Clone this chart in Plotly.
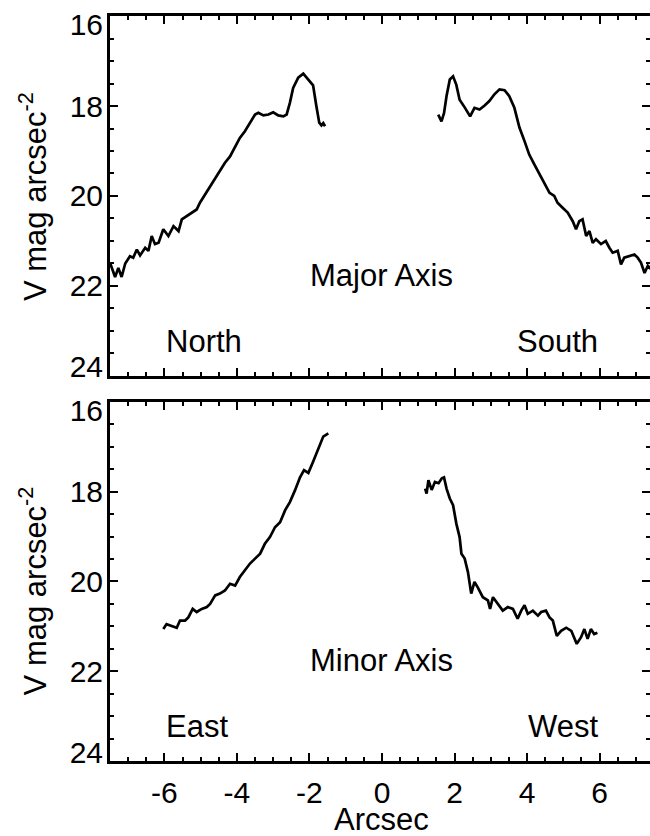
import plotly.graph_objects as go

# ---------------- data ----------------
major_north_x = [-7.50, -7.36, -7.27, -7.18, -7.08, -6.95, -6.86, -6.76, -6.67, -6.53, -6.44,
                 -6.35, -6.26, -6.16, -6.03, -5.89, -5.75, -5.61, -5.52, -5.38, -5.24, -5.11,
                 -5.02, -4.88, -4.74, -4.60, -4.47, -4.33, -4.19, -4.05, -3.92, -3.78, -3.64,
                 -3.50, -3.41, -3.27, -3.13, -3.00, -2.86, -2.72, -2.63, -2.54, -2.45, -2.31,
                 -2.17, -2.03, -1.90, -1.81, -1.73, -1.67, -1.62, -1.57]
major_north_y = [21.48, 21.80, 21.60, 21.80, 21.50, 21.34, 21.37, 21.19, 21.32, 21.15, 21.22,
                 20.89, 21.07, 21.04, 20.74, 20.89, 20.67, 20.78, 20.52, 20.45, 20.37, 20.30,
                 20.15, 19.97, 19.78, 19.63, 19.45, 19.26, 19.12, 18.89, 18.71, 18.56, 18.37,
                 18.19, 18.15, 18.21, 18.19, 18.14, 18.21, 18.23, 18.19, 17.93, 17.60, 17.37,
                 17.28, 17.41, 17.54, 18.00, 18.37, 18.43, 18.38, 18.45]

major_south_x = [1.55, 1.64, 1.71, 1.78, 1.87, 1.96, 2.05, 2.14, 2.28, 2.43, 2.55, 2.69, 2.83,
                 2.96, 3.10, 3.24, 3.38, 3.51, 3.65, 3.79, 3.93, 4.06, 4.20, 4.34, 4.48, 4.62,
                 4.75, 4.84, 4.98, 5.12, 5.26, 5.35, 5.44, 5.53, 5.63, 5.72, 5.81, 5.90, 6.04,
                 6.17, 6.27, 6.36, 6.50, 6.59, 6.68, 6.82, 6.96, 7.05, 7.14, 7.24, 7.33, 7.45]
major_south_y = [18.19, 18.34, 18.16, 17.78, 17.41, 17.34, 17.53, 17.86, 18.03, 18.23, 18.04,
                 18.08, 17.99, 17.89, 17.74, 17.63, 17.65, 17.78, 18.04, 18.48, 18.78, 19.08,
                 19.30, 19.52, 19.74, 19.93, 20.00, 20.15, 20.26, 20.37, 20.56, 20.74, 20.56,
                 20.52, 20.89, 20.78, 21.04, 20.96, 21.07, 21.00, 21.15, 21.26, 21.22, 21.52,
                 21.37, 21.34, 21.30, 21.37, 21.48, 21.71, 21.55, 21.65]

minor_east_x = [-6.03, -5.94, -5.80, -5.66, -5.57, -5.43, -5.34, -5.22, -5.11, -4.97, -4.83,
                -4.74, -4.60, -4.47, -4.33, -4.19, -4.05, -3.92, -3.78, -3.64, -3.50, -3.36,
                -3.23, -3.09, -2.95, -2.81, -2.67, -2.54, -2.40, -2.26, -2.15, -2.03, -1.90,
                -1.76, -1.62, -1.48]
minor_east_y = [21.06, 20.95, 20.99, 21.03, 20.87, 20.87, 20.80, 20.61, 20.68, 20.61, 20.57,
                20.50, 20.31, 20.27, 20.20, 20.05, 20.09, 19.90, 19.75, 19.60, 19.49, 19.38,
                19.16, 19.01, 18.79, 18.68, 18.41, 18.23, 17.97, 17.68, 17.52, 17.58, 17.33,
                17.03, 16.77, 16.70]

minor_west_x = [1.19, 1.23, 1.28, 1.37, 1.46, 1.56, 1.65, 1.71, 1.78, 1.87, 1.96, 2.05, 2.14,
                2.19, 2.28, 2.37, 2.46, 2.55, 2.64, 2.78, 2.92, 2.98, 3.06, 3.19, 3.33, 3.47,
                3.61, 3.74, 3.84, 3.93, 4.02, 4.16, 4.30, 4.39, 4.52, 4.62, 4.71, 4.82, 4.94,
                5.08, 5.22, 5.37, 5.49, 5.58, 5.67, 5.76, 5.85, 5.94]
minor_west_y = [17.93, 18.04, 17.74, 17.96, 17.78, 17.81, 17.70, 17.68, 17.93, 18.15, 18.30,
                18.71, 19.01, 19.38, 19.49, 19.79, 20.27, 20.01, 20.13, 20.35, 20.42, 20.61,
                20.35, 20.50, 20.65, 20.57, 20.61, 20.83, 20.65, 20.53, 20.72, 20.65, 20.76,
                20.68, 20.65, 20.80, 20.87, 21.21, 21.10, 21.03, 21.10, 21.39, 21.24, 21.06,
                21.28, 21.06, 21.17, 21.14]

y_tick_vals = [16, 18, 20, 22, 24]
y_tick_text = ["16", "18", "20", "22", "24"]
y_label_pos = [16.18, 18, 20, 22, 23.8]   # end labels sit slightly inside the frame
x_tick_vals = [-6, -4, -2, 0, 2, 4, 6]
x_tick_text = ["-6", "-4", "-2", "0", "2", "4", "6"]

FONT = "Arial, Liberation Sans, Helvetica, sans-serif"
LW = 2.7
AXW = 3

fig = go.Figure()
line = dict(color="black", width=LW)
fig.add_trace(go.Scatter(x=major_north_x, y=major_north_y, mode="lines", line=line,
                         xaxis="x2", yaxis="y2", showlegend=False))
fig.add_trace(go.Scatter(x=major_south_x, y=major_south_y, mode="lines", line=line,
                         xaxis="x2", yaxis="y2", showlegend=False))
fig.add_trace(go.Scatter(x=minor_east_x, y=minor_east_y, mode="lines", line=line,
                         xaxis="x", yaxis="y", showlegend=False))
fig.add_trace(go.Scatter(x=minor_west_x, y=minor_west_y, mode="lines", line=line,
                         xaxis="x", yaxis="y", showlegend=False))
# empty traces so that the overlay axes (labels / right-hand ticks) get drawn
for xa, ya in [("x", "y3"), ("x2", "y4"), ("x", "y5"), ("x2", "y6")]:
    fig.add_trace(go.Scatter(x=[None], y=[None], mode="lines", xaxis=xa, yaxis=ya,
                             showlegend=False, hoverinfo="skip"))

xr = [-7.5, 7.39]
yr = [24, 16]

minor_y = dict(ticks="inside", dtick=0.5, tick0=0, ticklen=4, tickwidth=2,
               tickcolor="black", showgrid=False)

def xax(labels, anchor):
    return dict(range=xr, anchor=anchor, showline=True, linecolor="black", linewidth=AXW,
                mirror="ticks", ticks="inside", ticklen=8, tickwidth=2, tickcolor="black",
                tickvals=x_tick_vals, ticktext=x_tick_text, showticklabels=labels,
                tickfont=dict(family=FONT, size=30, color="black"), ticklabelstandoff=3,
                minor=dict(ticks="inside", dtick=0.5, tick0=0, ticklen=4, tickwidth=2,
                           tickcolor="black", showgrid=False),
                showgrid=False, zeroline=False, fixedrange=True)

def yax(domain, anchor):
    return dict(range=yr, domain=domain, anchor=anchor, showline=True, linecolor="black",
                linewidth=AXW, mirror=False, ticks="inside", ticklen=8, tickwidth=2,
                tickcolor="black", tickvals=y_tick_vals, showticklabels=False,
                minor=minor_y, showgrid=False, zeroline=False, fixedrange=True)

def ylab(overlay, anchor):
    return dict(range=yr, overlaying=overlay, anchor=anchor, side="left", showline=False,
                ticks="", tickvals=y_label_pos, ticktext=y_tick_text,
                tickfont=dict(family=FONT, size=30, color="black"), ticklabelstandoff=6,
                showgrid=False, zeroline=False, fixedrange=True)

def yright(overlay, anchor):
    return dict(range=yr, overlaying=overlay, anchor=anchor, side="right", showline=False,
                ticks="inside", ticklen=8, tickwidth=2, tickcolor="black",
                tickvals=y_tick_vals, showticklabels=False, minor=minor_y,
                showgrid=False, zeroline=False, fixedrange=True)

bot_dom = [0, 0.4819]
top_dom = [0.5168, 1]

fig.update_layout(
    width=650, height=836,
    margin=dict(l=110, r=0, t=16, b=75),
    paper_bgcolor="white", plot_bgcolor="white",
    font=dict(family=FONT, size=30, color="black"),
    xaxis=xax(True, "y"),
    xaxis2=xax(False, "y2"),
    yaxis=yax(bot_dom, "x"),
    yaxis2=yax(top_dom, "x2"),
    yaxis3=ylab("y", "x"),
    yaxis4=ylab("y2", "x2"),
    yaxis5=yright("y", "x"),
    yaxis6=yright("y2", "x2"),
    showlegend=False,
)

ann_font = dict(family=FONT, size=31, color="black")
anns = [
    dict(text="North", x=-6, y=23.24, xref="x2", yref="y2", xanchor="left", yanchor="middle"),
    dict(text="South", x=6, y=23.24, xref="x2", yref="y2", xanchor="right", yanchor="middle"),
    dict(text="Major Axis", x=0, y=21.76, xref="x2", yref="y2", xanchor="center", yanchor="middle"),
    dict(text="East", x=-6, y=23.24, xref="x", yref="y", xanchor="left", yanchor="middle"),
    dict(text="West", x=6, y=23.24, xref="x", yref="y", xanchor="right", yanchor="middle"),
    dict(text="Minor Axis", x=0, y=21.76, xref="x", yref="y", xanchor="center", yanchor="middle"),
    dict(text="Arcsec", x=0, y=-0.078, xref="x", yref="paper", xanchor="center", yanchor="middle"),
    dict(text="V mag arcsec<sup>-2</sup>", x=-0.1426, y=0.7584, xref="paper", yref="paper",
         xanchor="center", yanchor="middle", textangle=-90),
    dict(text="V mag arcsec<sup>-2</sup>", x=-0.1426, y=0.229, xref="paper", yref="paper",
         xanchor="center", yanchor="middle", textangle=-90),
]
for a in anns:
    a.update(showarrow=False, font=ann_font)
fig.update_layout(annotations=anns)

fig.write_html("out.html")
